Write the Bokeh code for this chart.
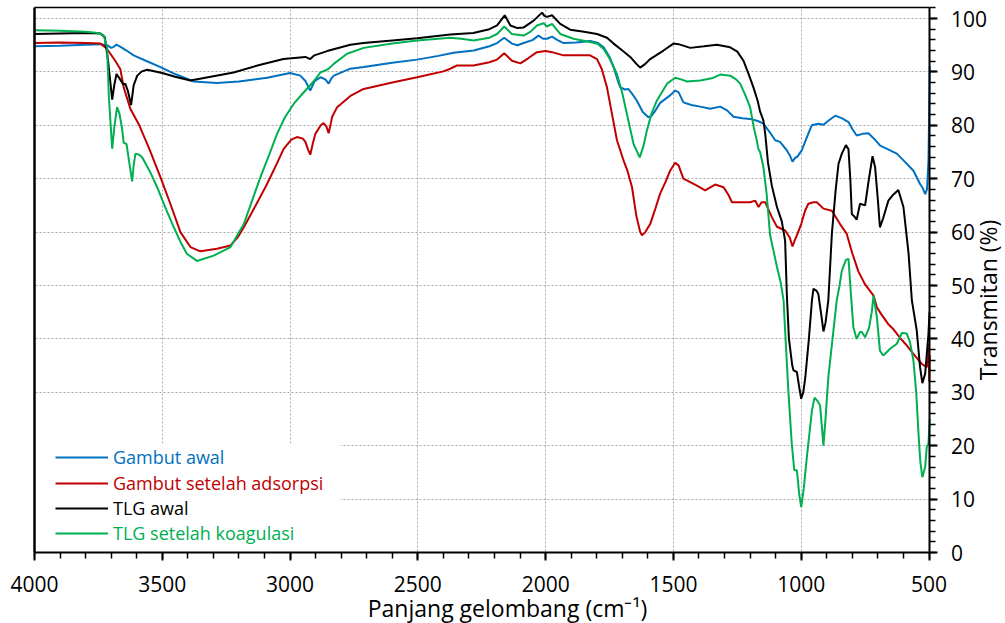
import math
from bokeh.plotting import figure
from bokeh.models import (Range1d, Legend, LegendItem, Label, SingleIntervalTicker,
                          FixedTicker, LinearAxis)
from bokeh.embed import file_html
from bokeh.resources import INLINE

# ---------------- data ----------------
x_ticks = [4000, 3500, 3000, 2500, 2000, 1500, 1000, 500]
y_ticks = [0, 10, 20, 30, 40, 50, 60, 70, 80, 90, 100]

series_names = ["Gambut awal", "Gambut setelah adsorpsi", "TLG awal", "TLG setelah koagulasi"]
series_colors = ["#0070C0", "#C00000", "#000000", "#00B050"]

gambut_awal_x = [4000, 3900, 3800, 3742, 3715, 3700, 3690, 3679, 3660, 3640, 3612, 3560, 3507, 3450,
                 3377, 3286, 3200, 3090, 3000, 2960, 2940, 2921, 2905, 2881, 2862, 2849, 2838, 2829,
                 2764, 2712, 2600, 2503, 2420, 2360, 2282, 2220, 2190, 2162, 2132, 2110, 2086, 2050,
                 2028, 2010, 1995, 1975, 1955, 1930, 1880, 1826, 1795, 1773, 1750, 1734, 1715, 1708,
                 1690, 1676, 1660, 1643, 1620, 1598, 1585, 1570, 1552, 1530, 1513, 1493, 1480, 1461,
                 1430, 1395, 1356, 1317, 1290, 1265, 1230, 1200, 1170, 1148, 1120, 1102, 1083, 1056,
                 1045, 1034, 1022, 1017, 998, 980, 959, 933, 913, 890, 867, 840, 815, 800, 783, 760,
                 737, 715, 691, 660, 626, 595, 561, 545, 535, 525, 515, 508, 502, 497]
gambut_awal_y = [94.8, 94.9, 95.1, 95.2, 95.0, 94.5, 94.7, 95.1, 94.6, 94.0, 93.1, 92.0, 90.9, 89.6,
                 88.2, 87.9, 88.2, 88.9, 89.8, 89.3, 88.3, 86.5, 88.2, 89.0, 88.6, 87.8, 88.8, 89.3,
                 90.6, 90.9, 91.7, 92.3, 93.0, 93.6, 94.0, 94.8, 95.4, 96.4, 95.3, 95.0, 95.4, 96.0,
                 96.8, 96.2, 96.2, 96.6, 96.0, 95.4, 95.5, 95.8, 95.4, 94.6, 92.8, 90.9, 88.0, 87.1,
                 86.7, 86.8, 85.8, 84.6, 82.5, 81.5, 81.8, 82.8, 84.2, 85.0, 85.6, 86.5, 86.2, 84.3,
                 83.8, 83.5, 83.1, 83.5, 82.8, 81.6, 81.3, 81.2, 80.8, 80.3, 78.5, 77.2, 76.9, 75.3,
                 74.4, 73.2, 74.0, 74.0, 75.3, 77.5, 80.0, 80.3, 80.1, 81.0, 81.8, 81.3, 80.6, 79.3,
                 78.1, 78.4, 78.5, 77.5, 76.2, 75.5, 74.7, 73.2, 71.5, 70.0, 69.0, 68.3, 67.1, 68.0,
                 73.4, 91.0]

gambut_ads_x = [4000, 3900, 3800, 3742, 3720, 3703, 3683, 3664, 3651, 3625, 3590, 3550, 3505, 3470,
                3429, 3390, 3351, 3286, 3233, 3205, 3181, 3140, 3090, 3050, 3025, 2995, 2973, 2950,
                2940, 2930, 2921, 2910, 2901, 2880, 2869, 2858, 2849, 2840, 2836, 2816, 2764, 2712,
                2600, 2503, 2400, 2373, 2347, 2282, 2220, 2190, 2162, 2132, 2099, 2070, 2034, 2000,
                1975, 1930, 1826, 1799, 1780, 1760, 1740, 1721, 1695, 1680, 1662, 1645, 1630, 1623,
                1610, 1591, 1570, 1552, 1530, 1513, 1493, 1480, 1461, 1440, 1408, 1376, 1337, 1304,
                1285, 1271, 1235, 1200, 1180, 1167, 1155, 1141, 1115, 1095, 1063, 1045, 1034, 1025,
                1017, 1000, 985, 972, 952, 939, 913, 880, 848, 822, 800, 776, 750, 717, 704, 685,
                660, 639, 610, 593, 561, 528, 509, 504, 501, 499, 497]
gambut_ads_y = [95.4, 95.5, 95.4, 95.3, 94.5, 93.4, 92.0, 90.5, 87.1, 83.1, 80.0, 75.5, 70.0, 65.5,
                60.0, 57.2, 56.4, 56.9, 57.5, 59.0, 60.9, 64.5, 69.0, 73.0, 75.6, 77.3, 77.8, 77.5,
                76.9, 75.5, 74.5, 76.8, 78.4, 80.0, 80.4, 79.8, 78.5, 80.5, 81.5, 83.4, 85.5, 86.8,
                88.0, 89.0, 90.1, 90.6, 91.2, 91.2, 91.8, 92.3, 93.5, 92.1, 91.6, 92.5, 93.7, 93.9,
                93.7, 93.1, 93.1, 92.4, 90.5, 87.1, 82.0, 77.2, 73.4, 71.5, 68.4, 63.0, 60.0, 59.4,
                60.0, 61.5, 64.5, 67.2, 69.5, 71.5, 73.0, 72.5, 70.0, 69.5, 68.7, 67.8, 68.9, 68.4,
                67.0, 65.6, 65.6, 65.6, 65.9, 64.7, 65.6, 65.6, 62.8, 61.0, 60.3, 59.0, 57.3, 58.5,
                59.4, 61.5, 64.0, 65.3, 65.6, 65.6, 64.4, 64.0, 61.5, 59.7, 56.0, 52.6, 50.2, 48.1,
                45.9, 44.5, 42.8, 41.8, 40.0, 39.1, 37.2, 35.3, 34.7, 36.0, 39.0, 32.0, 37.0]

tlg_awal_x = [4000, 3900, 3800, 3742, 3725, 3712, 3696, 3688, 3679, 3665, 3652, 3645, 3635, 3622,
              3612, 3598, 3580, 3559, 3500, 3450, 3390, 3300, 3221, 3120, 3026, 2940, 2921, 2905,
              2855, 2764, 2713, 2600, 2503, 2373, 2283, 2220, 2190, 2160, 2138, 2110, 2087, 2047,
              2014, 2005, 1995, 1975, 1943, 1904, 1850, 1799, 1760, 1734, 1700, 1669, 1645, 1630,
              1610, 1591, 1539, 1500, 1480, 1434, 1380, 1330, 1278, 1250, 1226, 1205, 1187, 1170,
              1161, 1148, 1141, 1130, 1115, 1095, 1076, 1063, 1056, 1048, 1035, 1030, 1017, 1008,
              1000, 992, 984, 970, 958, 952, 940, 933, 920, 913, 905, 894, 880, 865, 854, 841, 825,
              815, 808, 802, 790, 783, 770, 750, 735, 721, 711, 700, 692, 680, 659, 640, 620, 600,
              580, 567, 548, 535, 526, 515, 502, 498]
tlg_awal_y = [97.1, 97.2, 97.3, 97.2, 96.5, 92.0, 84.8, 87.5, 89.6, 88.6, 87.6, 87.8, 86.5, 83.8,
              87.5, 89.3, 90.1, 90.4, 89.8, 89.1, 88.4, 89.2, 89.9, 91.3, 92.4, 92.8, 92.4, 93.1,
              93.9, 95.1, 95.4, 95.9, 96.3, 97.0, 97.3, 98.0, 98.7, 100.6, 98.7, 98.2, 98.3, 99.6,
              101.1, 100.5, 100.3, 100.6, 99.0, 97.9, 97.5, 97.1, 96.4, 95.3, 94.0, 92.8, 91.5, 90.8,
              91.5, 92.4, 94.0, 95.3, 95.2, 94.5, 94.8, 95.1, 94.6, 93.8, 92.1, 89.5, 87.1, 84.5,
              82.6, 80.9, 78.5, 73.0, 68.7, 64.7, 62.0, 58.4, 48.0, 40.0, 35.0, 34.1, 33.8, 31.0,
              28.8, 30.0, 32.8, 40.0, 47.2, 49.4, 49.0, 48.4, 44.0, 41.4, 43.0, 47.2, 59.7, 68.0,
              72.8, 74.7, 76.3, 75.5, 70.0, 63.4, 62.8, 62.3, 65.3, 65.0, 70.0, 74.2, 72.2, 66.0,
              60.9, 62.5, 65.9, 67.0, 67.9, 64.7, 56.0, 47.2, 41.6, 34.7, 31.7, 33.5, 41.0, 45.0]

tlg_koag_x = [4000, 3900, 3800, 3768, 3740, 3729, 3716, 3709, 3696, 3688, 3677, 3668, 3657, 3651,
              3640, 3618, 3612, 3605, 3590, 3579, 3550, 3520, 3490, 3455, 3425, 3403, 3364, 3299,
              3233, 3181, 3150, 3116, 3080, 3051, 3020, 2986, 2950, 2921, 2900, 2881, 2860, 2849,
              2829, 2777, 2712, 2600, 2503, 2373, 2330, 2282, 2220, 2190, 2162, 2132, 2086, 2060,
              2034, 2008, 1995, 1975, 1943, 1891, 1826, 1795, 1773, 1750, 1721, 1700, 1682, 1656,
              1632, 1618, 1604, 1585, 1565, 1525, 1493, 1470, 1447, 1395, 1350, 1317, 1278, 1255,
              1239, 1220, 1200, 1185, 1174, 1167, 1161, 1148, 1135, 1122, 1095, 1080, 1069, 1063,
              1050, 1037, 1027, 1017, 1008, 1000, 990, 978, 958, 948, 935, 926, 913, 905, 894, 861,
              850, 841, 825, 815, 805, 796, 783, 770, 763, 750, 735, 724, 717, 704, 692, 679, 653,
              626, 606, 587, 575, 561, 550, 541, 534, 526, 515, 509, 502, 497]
tlg_koag_y = [97.8, 97.7, 97.5, 97.4, 97.1, 96.8, 94.6, 85.3, 75.6, 79.5, 83.4, 82.3, 79.3, 76.7,
              76.5, 69.5, 72.5, 74.7, 74.5, 74.0, 71.5, 68.4, 64.8, 60.9, 57.8, 55.9, 54.6, 55.6,
              57.2, 61.5, 65.7, 70.3, 74.7, 78.4, 81.5, 84.0, 86.0, 87.5, 88.7, 89.9, 90.3, 90.6,
              91.5, 93.4, 94.5, 95.3, 95.9, 96.4, 96.2, 95.9, 96.4, 97.1, 98.5, 97.1, 96.8, 97.5,
              98.7, 99.1, 98.5, 99.0, 97.1, 96.2, 95.6, 95.2, 94.3, 92.5, 89.6, 86.0, 82.1, 76.5,
              74.0, 76.0, 79.0, 82.3, 84.6, 87.8, 88.9, 88.6, 88.2, 88.4, 88.8, 89.5, 89.3, 88.6,
              87.8, 85.8, 83.4, 79.5, 77.2, 75.5, 75.0, 72.2, 67.0, 59.5, 53.5, 50.5, 47.2, 41.6,
              30.0, 20.4, 15.4, 15.4, 11.0, 8.5, 12.0, 17.8, 26.6, 29.0, 28.3, 27.5, 20.0, 25.0,
              32.8, 47.2, 50.0, 52.8, 54.8, 55.0, 48.0, 42.2, 40.0, 41.3, 41.3, 40.3, 42.0, 45.0,
              48.1, 44.1, 37.8, 36.9, 38.1, 39.1, 41.1, 41.0, 39.5, 36.0, 30.0, 22.2, 17.0, 14.1,
              16.0, 19.7, 20.4, 25.0]

xs = [gambut_awal_x, gambut_ads_x, tlg_awal_x, tlg_koag_x]
ys = [gambut_awal_y, gambut_ads_y, tlg_awal_y, tlg_koag_y]

FONT = "Open Sans"

# ---------------- layout geometry (pixels of the 1005x623 canvas) ----------------
W, H = 1005, 623
PX_X4000, PX_X500 = 34.0, 928.5      # plot-area left / right edge
PX_Y0, PX_Y100 = 552.0, 18.0         # y=0 and y=100 rows
X_MAX, X_MIN = x_ticks[0], x_ticks[-1]
Y_MIN, Y_TOP = 0, 102
sx = (X_MAX - X_MIN) / (PX_X500 - PX_X4000)       # data units per px
sy = 100.0 / (PX_Y0 - PX_Y100)
XL = X_MAX + PX_X4000 * sx
XR = X_MIN - (W - PX_X500) * sx
YT = PX_Y0 * sy
YB = -(H - PX_Y0) * sy

def px_to_x(px):
    return X_MAX - (px - PX_X4000) * sx

def py_to_y(py):
    return (PX_Y0 - py) * sy

# ---------------- figure: frame = whole canvas, axes pinned in place ----------------
p = figure(width=W, height=H, output_backend="svg", toolbar_location=None,
           x_range=Range1d(XL, XR), y_range=Range1d(YB, YT),
           x_axis_location=None, y_axis_location=None,
           min_border_left=0, min_border_right=0, min_border_top=0, min_border_bottom=0)
p.background_fill_color = "white"
p.border_fill_color = "white"
p.outline_line_color = None

# grid
p.xgrid.ticker = FixedTicker(ticks=x_ticks[1:-1])
p.ygrid.ticker = FixedTicker(ticks=y_ticks[1:])
for g in (p.xgrid, p.ygrid):
    g.grid_line_color = "#A6A6A6"
    g.grid_line_dash = "2 2"
    g.grid_line_width = 1

# white masks outside the plot area (keep grid inside it) + legend backdrop
p.quad(left=[XL, X_MIN, XL, XL, X_MAX],
       right=[X_MAX, XR, XR, XR, px_to_x(340)],
       bottom=[YB, YB, Y_TOP, YB, Y_MIN],
       top=[YT, YT, YT, Y_MIN, py_to_y(443)],
       fill_color="white", line_color=None)

renderers = []
for name, col, x, y in zip(series_names, series_colors, xs, ys):
    r = p.line(x, y, line_color=col, line_width=2)
    renderers.append(r)

# bottom axis pinned at y=0
xa = LinearAxis(fixed_location=Y_MIN, bounds=(X_MIN, X_MAX),
                ticker=SingleIntervalTicker(interval=500, num_minor_ticks=5))
xa.axis_line_width = 2
xa.major_tick_in = 0
xa.major_tick_out = 8
xa.minor_tick_in = 0
xa.minor_tick_out = 6
xa.major_tick_line_width = 2
xa.minor_tick_line_width = 1.5
xa.major_label_text_font = FONT
xa.major_label_text_font_size = "21px"
xa.major_label_text_color = "black"
xa.major_label_standoff = 15
p.add_layout(xa, "below")

# right axis pinned at x=500
ya = LinearAxis(fixed_location=X_MIN, bounds=(Y_MIN, Y_TOP),
                ticker=SingleIntervalTicker(interval=10, num_minor_ticks=5))
ya.axis_line_width = 2
ya.major_tick_in = 0
ya.major_tick_out = 8
ya.minor_tick_in = 0
ya.minor_tick_out = 6
ya.major_tick_line_width = 2
ya.minor_tick_line_width = 1.5
ya.major_label_text_font = FONT
ya.major_label_text_font_size = "21px"
ya.major_label_text_color = "black"
ya.major_label_standoff = 14
p.add_layout(ya, "right")

# plain frame lines on the left and top
la = LinearAxis(fixed_location=X_MAX, bounds=(Y_MIN, Y_TOP), ticker=FixedTicker(ticks=[]),
                axis_line_width=2.5, major_tick_out=0, minor_tick_out=0)
p.add_layout(la, "left")
ta = LinearAxis(fixed_location=Y_TOP, bounds=(X_MIN, X_MAX), ticker=FixedTicker(ticks=[]),
                axis_line_width=1.5, major_tick_out=0, minor_tick_out=0)
p.add_layout(ta, "above")

# axis titles
p.add_layout(Label(x=px_to_x(507), y=py_to_y(607), text="Panjang gelombang (cm\u207b\u00b9)",
                   text_align="center", text_baseline="alphabetic",
                   text_font=FONT, text_font_size="23px", text_color="black"))
p.add_layout(Label(x=px_to_x(987), y=py_to_y(299.5), text="Transmitan (%)",
                   angle=math.pi / 2, text_align="center", text_baseline="alphabetic",
                   text_font=FONT, text_font_size="23px", text_color="black"))

# legends (one per entry so each label keeps its series colour)
legend_bottoms = [154, 128, 103, 78]
for name, col, r, vy in zip(series_names, series_colors, renderers, legend_bottoms):
    leg = Legend(items=[LegendItem(label=name, renderers=[r])], location=(55, vy),
                 padding=0, margin=0, spacing=0, glyph_width=53, glyph_height=20,
                 label_height=20, label_standoff=5,
                 label_text_font=FONT, label_text_font_size="18px",
                 label_text_color=col, background_fill_alpha=0, border_line_alpha=0)
    p.add_layout(leg)

open("out.html", "w").write(file_html(p, INLINE))
